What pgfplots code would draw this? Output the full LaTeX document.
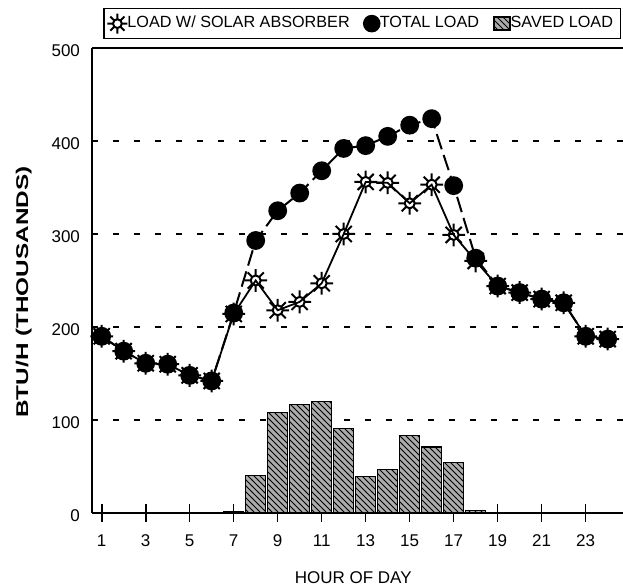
\documentclass[border=0pt]{standalone}
\usepackage{pgfplots}
\pgfplotsset{compat=1.18}
\usepackage{graphicx}
\usepackage{fontspec}
\setmainfont{Liberation Sans}
\usetikzlibrary{patterns}

\pgfdeclareplotmark{sun}{%
  \pgfpathcircle{\pgfpointorigin}{0.44\pgfplotmarksize}%
  \pgfpathmoveto{\pgfpointpolar{0}{0.44\pgfplotmarksize}}\pgfpathlineto{\pgfpointpolar{0}{\pgfplotmarksize}}%
  \pgfpathmoveto{\pgfpointpolar{45}{0.44\pgfplotmarksize}}\pgfpathlineto{\pgfpointpolar{45}{\pgfplotmarksize}}%
  \pgfpathmoveto{\pgfpointpolar{90}{0.44\pgfplotmarksize}}\pgfpathlineto{\pgfpointpolar{90}{\pgfplotmarksize}}%
  \pgfpathmoveto{\pgfpointpolar{135}{0.44\pgfplotmarksize}}\pgfpathlineto{\pgfpointpolar{135}{\pgfplotmarksize}}%
  \pgfpathmoveto{\pgfpointpolar{180}{0.44\pgfplotmarksize}}\pgfpathlineto{\pgfpointpolar{180}{\pgfplotmarksize}}%
  \pgfpathmoveto{\pgfpointpolar{225}{0.44\pgfplotmarksize}}\pgfpathlineto{\pgfpointpolar{225}{\pgfplotmarksize}}%
  \pgfpathmoveto{\pgfpointpolar{270}{0.44\pgfplotmarksize}}\pgfpathlineto{\pgfpointpolar{270}{\pgfplotmarksize}}%
  \pgfpathmoveto{\pgfpointpolar{315}{0.44\pgfplotmarksize}}\pgfpathlineto{\pgfpointpolar{315}{\pgfplotmarksize}}%
  \pgfusepathqstroke
}

\pgfplotsset{
  marklegend/.style={legend image code/.code={\draw[##1] plot coordinates {(4pt,0pt)};}},
  boxlegend/.style={legend image code/.code={\draw[##1] (0pt,-3.2pt) rectangle (8pt,3.2pt);}},
}

\pgfplotstableread{
hour total solar
1  190 190
2  174 174
3  161 161
4  160 160
5  148 148
6  142 142
7  215 214
8  293 250
9  325 218
10 344 227
11 368 247
12 392 300
13 395 356
14 405 355
15 417 333
16 424 353
17 352 299
18 274 271
19 244 244
20 237 237
21 230 230
22 226 226
23 190 190
24 187 187
}\loadtable

\pgfplotstableread{
hour saved
7  2
8  40
9  108
10 117
11 120
12 91
13 39
14 47
15 83
16 71
17 54
18 3
}\savedtable

\begin{document}
\begin{tikzpicture}
\useasboundingbox (-46pt,-37.5pt) rectangle (265.5pt,256.5pt);
\begin{axis}[
  scale only axis,
  width=275pt, height=232.5pt,
  xmin=0.559, xmax=25.559,
  ymin=0, ymax=500,
  axis x line=box, axis y line*=left,
  axis line style={line width=1pt},
  xtick={1,3,...,23},
  ytick={0,100,...,500},
  ymajorgrids,
  grid style={black, line width=0.8pt, dash pattern=on 3pt off 7.5pt},
  x tick style={black, line width=0.8pt},
  y tick style={draw=none},
  tick align=center,
  major tick length=9pt,
  xtick pos=bottom, ytick pos=left,
  tick label style={font=\fontsize{8.5}{10}\selectfont},
  /pgf/number format/assume math mode=true,
  xticklabel style={yshift=-3pt},
  yticklabel style={xshift=2pt, yshift=-1.5pt},
  xlabel={HOUR OF DAY},
  xlabel style={font=\fontsize{8.5}{10}\selectfont, at={(axis description cs:0.475,0)}, anchor=center, yshift=-32.5pt},
  ylabel={\scalebox{1.43}[1]{BTU/H (THOUSANDS)}},
  ylabel style={font=\fontsize{8.5}{10}\selectfont\bfseries, at={(axis description cs:-0.124,0.475)}, anchor=center},
  legend columns=3,
  legend style={at={(0.02,1.0185)}, anchor=south west, draw=black, line width=0.8pt,
    font=\fontsize{8.1}{9.5}\selectfont, inner sep=1.8pt,
    /tikz/every even column/.append style={column sep=5pt},
    /tikz/every odd column/.append style={column sep=-2pt}},
  legend cell align=left,
]
\addplot[ybar, bar width=10pt, draw=black, line width=0.6pt, fill=gray!65,
  postaction={pattern=north west lines, pattern color=black}, forget plot]
  table[x=hour, y=saved] {\savedtable};
\addplot[black, line width=1pt, dash pattern=on 8pt off 3pt, mark=*, mark size=4.2pt,
  mark options={solid}, forget plot]
  table[x=hour, y=total] {\loadtable};
\addplot[black, line width=0.9pt, mark=sun, mark size=5.7pt,
  mark options={solid, line width=1pt}, forget plot]
  table[x=hour, y=solar] {\loadtable};
\addlegendimage{only marks, mark=sun, mark size=5pt, mark options={line width=1pt}, marklegend}
\addlegendentry{LOAD W/ SOLAR ABSORBER}
\addlegendimage{only marks, mark=*, mark size=4pt, marklegend}
\addlegendentry{TOTAL LOAD}
\addlegendimage{draw=black, fill=gray!65, postaction={pattern=north west lines}, boxlegend}
\addlegendentry{SAVED LOAD}
\end{axis}
\end{tikzpicture}
\end{document}
